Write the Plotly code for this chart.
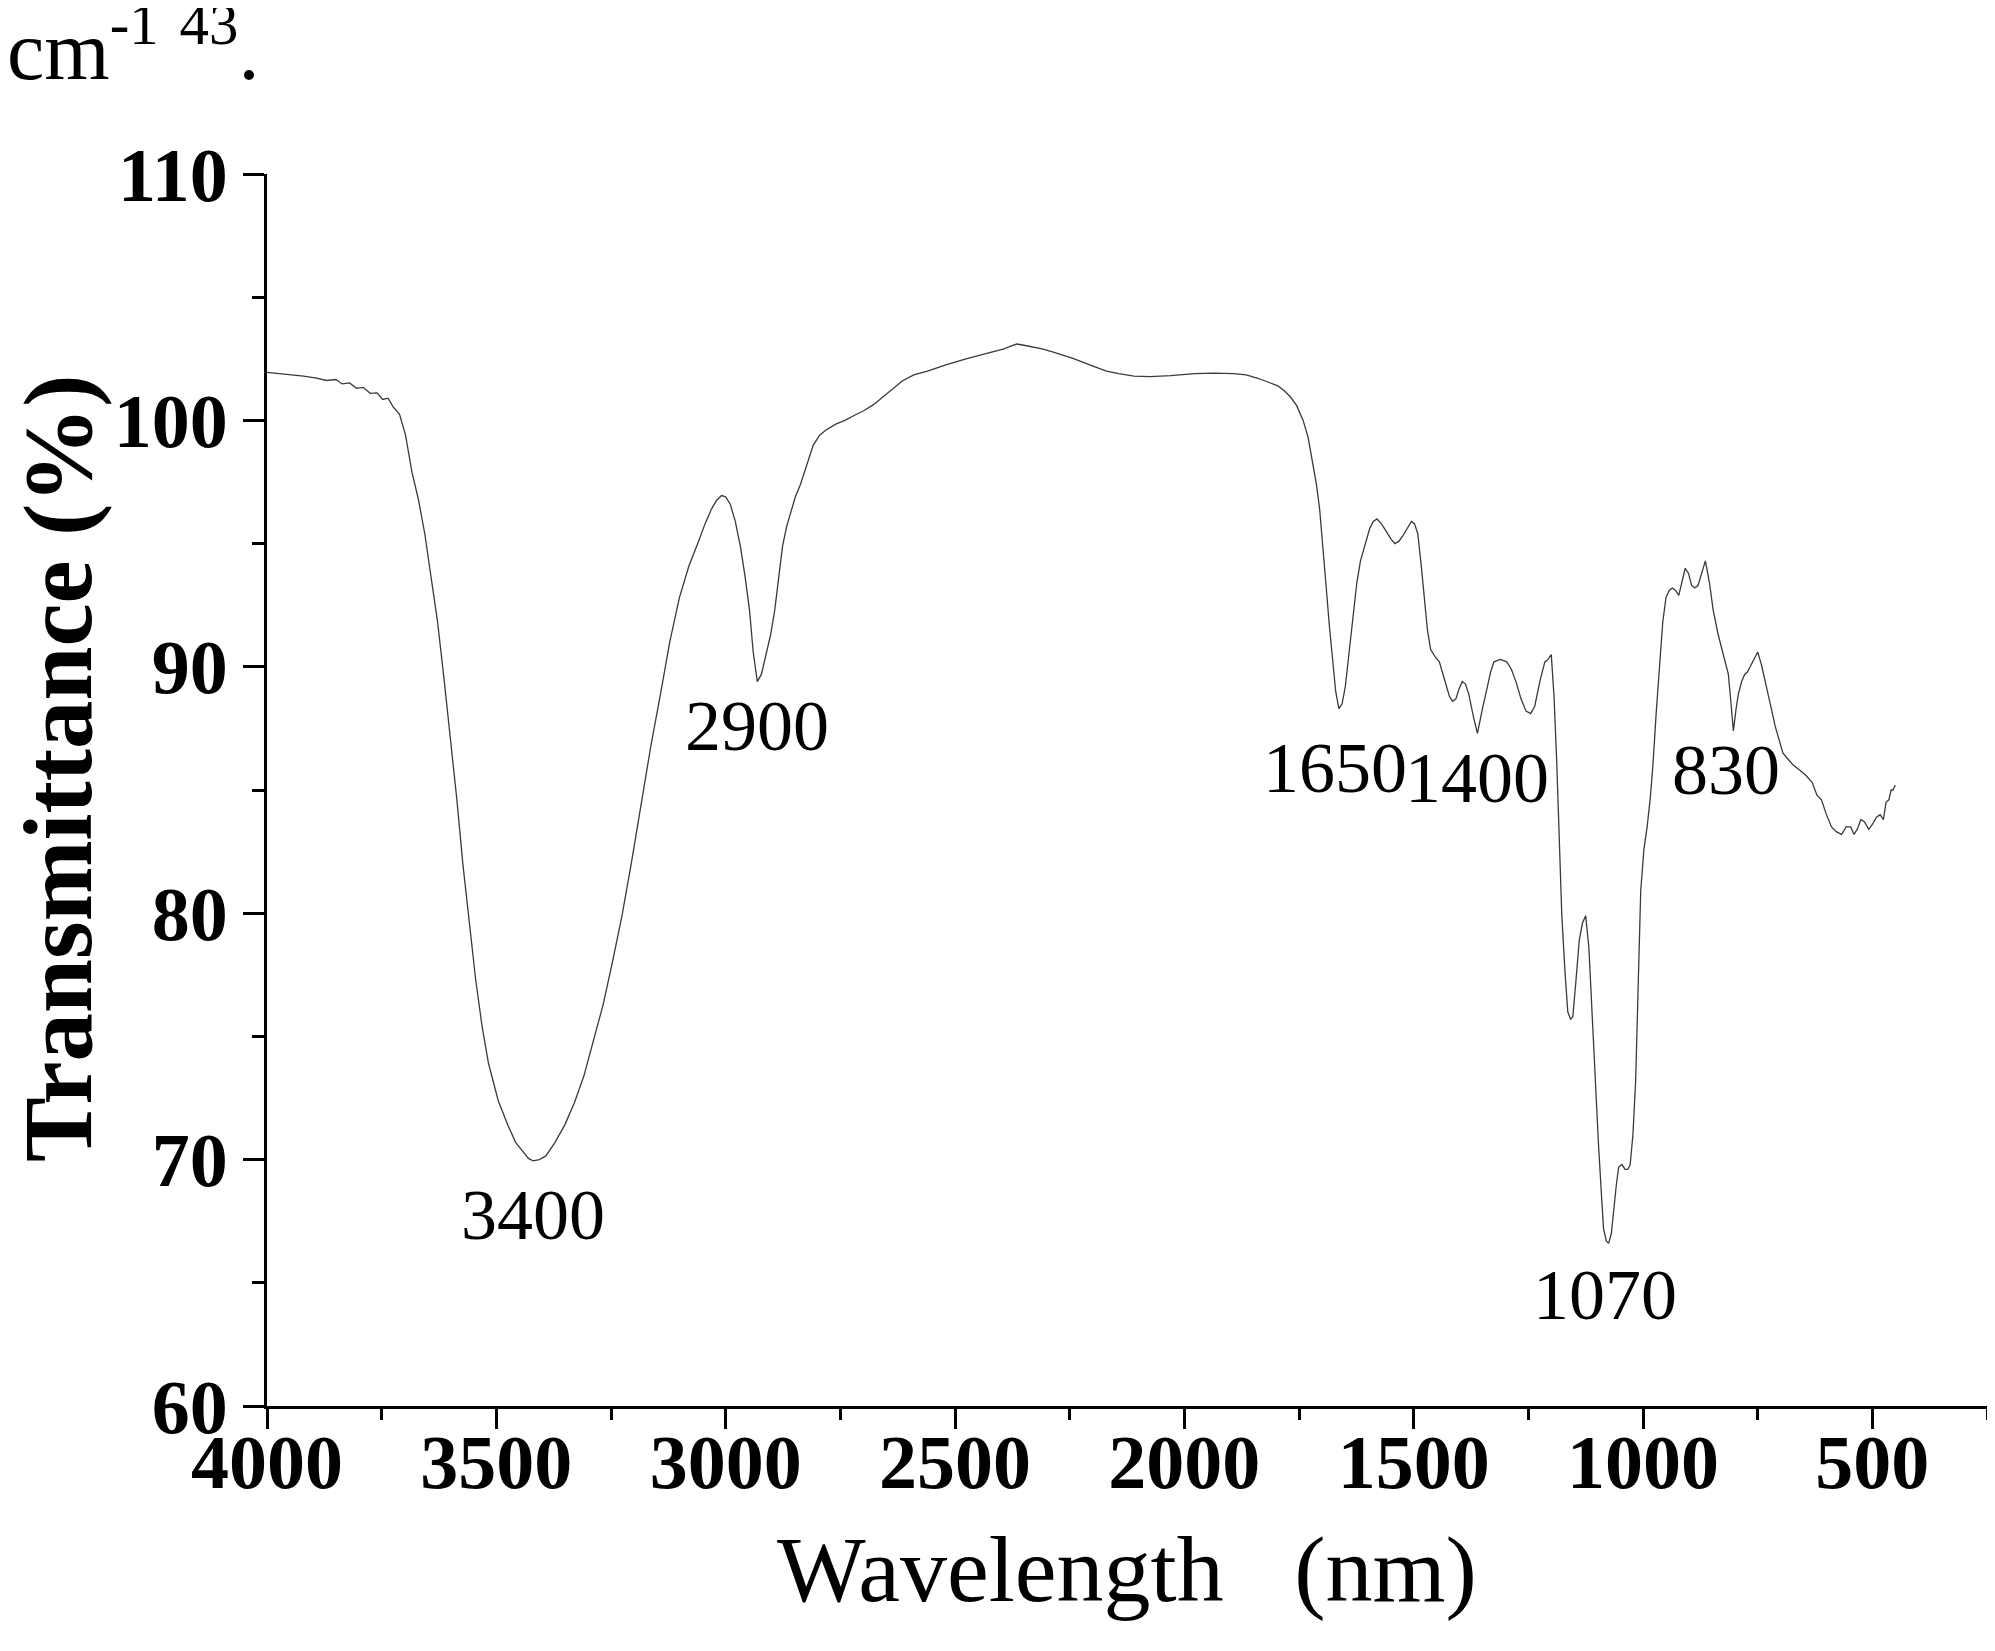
import plotly.graph_objects as go

# FTIR-like spectrum
wavenumber = [4000, 3960, 3920, 3892, 3870, 3850, 3836, 3820, 3805, 3790, 3775, 3760, 3748, 3736, 3725, 3711, 3698,
              3684, 3670, 3656, 3642, 3628, 3614, 3600, 3586, 3573, 3559, 3545, 3531, 3517, 3496, 3475, 3458, 3442,
              3430, 3420, 3406, 3392, 3372, 3351, 3330, 3309, 3288, 3267, 3247, 3226, 3205, 3184, 3163, 3142, 3122,
              3101, 3080, 3059, 3045, 3031, 3020, 3009, 3000, 2990, 2979, 2968, 2958, 2948, 2940, 2931, 2922, 2912,
              2902, 2893, 2884, 2876, 2867, 2859, 2848, 2837, 2823, 2809, 2795, 2782, 2760, 2740, 2720, 2698, 2677,
              2657, 2636, 2615, 2590, 2560, 2520, 2476, 2435, 2393, 2380, 2365, 2350, 2337, 2310, 2282, 2240, 2199,
              2170, 2143, 2110, 2074, 2030, 1977, 1935, 1893, 1865, 1838, 1817, 1796, 1782, 1769, 1755, 1741, 1730,
              1719, 1712, 1705, 1698, 1691, 1684, 1677, 1670, 1663, 1656, 1649, 1640, 1632, 1624, 1616, 1606, 1596,
              1588, 1580, 1570, 1560, 1550, 1541, 1532, 1524, 1514, 1505, 1498, 1491, 1484, 1477, 1470, 1463, 1453,
              1444, 1433, 1422, 1415, 1408, 1401, 1394, 1387, 1380, 1370, 1361, 1350, 1339, 1332, 1325, 1311, 1297,
              1287, 1277, 1266, 1255, 1245, 1236, 1225, 1214, 1207, 1200, 1194, 1188, 1182, 1177, 1170, 1164, 1158,
              1153, 1146, 1139, 1132, 1125, 1118, 1111, 1104, 1097, 1091, 1086, 1080, 1075, 1069, 1064, 1058, 1053,
              1046, 1039, 1033, 1028, 1022, 1016, 1010, 1005, 998, 991, 984, 978, 971, 964, 957, 950, 943, 936, 929,
              922, 915, 908, 901, 894, 887, 880, 872, 864, 855, 847, 836, 825, 819, 814, 808, 803, 797, 792, 785, 778,
              772, 767, 758, 750, 742, 733, 726, 719, 712, 705, 695, 686, 672, 658, 645, 631, 621, 611, 600, 589, 578,
              567, 557, 547, 540, 533, 525, 517, 508, 500, 491, 483, 476, 470, 464, 459, 455, 450]

transmittance = [101.95, 101.88, 101.80, 101.72, 101.62, 101.66, 101.48, 101.52, 101.30, 101.34, 101.10, 101.12,
                 100.85, 100.90, 100.55, 100.25, 99.40,
                 97.9, 96.8, 95.4, 93.7, 91.8, 89.5, 87.1, 84.6, 82.0, 79.6, 77.3, 75.4, 73.9, 72.4, 71.4, 70.7, 70.3,
                 70.05, 69.95, 70.0, 70.15, 70.7, 71.4, 72.3, 73.4, 74.8, 76.3, 78.0, 79.9, 82.1, 84.5, 86.8, 88.9, 91.0,
                 92.8, 94.1, 95.1, 95.8, 96.4, 96.75, 96.95, 96.9, 96.6, 95.9, 94.9, 93.7, 92.3, 90.6, 89.4, 89.7, 90.5,
                 91.3, 92.3, 93.8, 94.9, 95.7, 96.2, 96.9, 97.4, 98.2, 99.0, 99.4, 99.6, 99.85, 100.0, 100.2, 100.4, 100.65,
                 100.96, 101.3, 101.6, 101.85, 102.0, 102.25, 102.5, 102.7, 102.9, 103.0, 103.1, 103.05, 103.0, 102.9, 102.75, 102.5, 102.2,
                 102.0, 101.9, 101.8, 101.78, 101.82, 101.9, 101.92, 101.9, 101.85, 101.7, 101.55, 101.4, 101.2, 100.96, 100.6, 100.0, 99.3,
                 98.2, 97.4, 96.4, 95.0, 93.3, 91.7, 90.2, 89.0, 88.3, 88.5, 89.2, 90.7, 92.3, 93.4, 94.3, 95.0, 95.6,
                 95.9, 96.0, 95.8, 95.5, 95.2, 95.0, 95.1, 95.3, 95.6, 95.9, 95.8, 95.4, 94.2, 92.8, 91.5, 90.7, 90.4,
                 90.2, 89.5, 88.8, 88.6, 88.7, 89.1, 89.4, 89.3, 88.9, 88.0, 87.3, 88.3, 89.2, 89.8, 90.2, 90.3, 90.2,
                 89.9, 89.4, 88.7, 88.2, 88.1, 88.4, 89.4, 90.2, 90.3, 90.5, 88.8, 86.1, 82.8, 79.9, 77.6, 76.0, 75.7,
                 75.8, 77.3, 78.9, 79.6, 79.9, 78.6, 75.8, 73.0, 70.6, 68.7, 67.2, 66.7, 66.6, 67.0, 68.0, 69.0, 69.7,
                 69.8, 69.6, 69.6, 69.8, 71.0, 73.2, 77.0, 80.9, 82.6, 83.5, 84.7, 86.1, 88.2, 90.2, 91.8, 92.8, 93.1, 93.2, 93.1,
                 92.9, 93.5, 94.0, 93.8, 93.3, 93.2, 93.3, 93.8, 94.3, 93.4, 92.3, 91.3, 90.5, 90.0, 89.7, 88.5, 87.4, 88.3, 88.9, 89.4, 89.7,
                 89.8, 89.98, 90.3, 90.6, 90.1, 89.4, 88.8, 88.2, 87.6, 87.1, 86.5, 86.3, 86.0, 85.8, 85.6, 85.3, 84.8, 84.6, 84.0, 83.5, 83.3,
                 83.2, 83.5, 83.5, 83.2, 83.4, 83.8, 83.7, 83.4, 83.6, 83.9, 84.0, 83.8, 84.5, 84.6, 85.0, 85.0, 85.2]

# peak annotations: label text and position (data coords)
peak_labels = ["3400", "2900", "1650", "1400", "1070", "830"]
peak_label_x = [3420, 2931, 1671, 1361, 1083, 819]
peak_label_y = [67.75, 87.6, 85.9, 85.5, 64.5, 85.8]

x_tick_vals = [4000, 3500, 3000, 2500, 2000, 1500, 1000, 500]
y_tick_vals = [60, 70, 80, 90, 100, 110]

x_title = "Wavelength\u00a0\u00a0\u00a0(nm)"
y_title = "Transmittance (%)"

SERIF = "Liberation Serif, Times New Roman, serif"

fig = go.Figure()
fig.add_trace(go.Scatter(x=wavenumber, y=transmittance, mode="lines",
                         line=dict(color="#3a3a3a", width=1.3), showlegend=False))

for t, px, py in zip(peak_labels, peak_label_x, peak_label_y):
    fig.add_annotation(x=px, y=py, xref="x", yref="y", text=t, showarrow=False,
                       font=dict(family=SERIF, size=72, color="black"),
                       xanchor="center", yanchor="middle")

# y-axis title, placed as a rotated annotation to sit where the reference puts it
fig.add_annotation(xref="paper", yref="paper", x=-0.1209, y=0.5179, xanchor="center", yanchor="middle",
                   text=y_title, textangle=-90, showarrow=False,
                   font=dict(family=SERIF, size=97, color="black", weight="bold"))

# fragment of caption text at top-left
fig.add_annotation(xref="paper", yref="paper", x=-0.1524, y=1.1493, xanchor="left", yanchor="top",
                   text="cm<sup>-1</sup> <sup>43</sup>.", showarrow=False,
                   font=dict(family=SERIF, size=84, color="black"))

axis_common = dict(showline=True, linecolor="black", linewidth=3, ticks="outside", tickwidth=3,
                   tickcolor="black", showgrid=False, zeroline=False, mirror=False, automargin=False,
                   tickfont=dict(family=SERIF, size=76, color="black", weight="bold"))

fig.update_layout(
    width=1987, height=1643,
    margin=dict(l=259, r=8, t=166, b=245),
    paper_bgcolor="white", plot_bgcolor="white",
    xaxis=dict(range=[4000, 250], tickmode="array", tickvals=x_tick_vals, ticklen=20,
               ticklabelstandoff=-32,
               minor=dict(tickmode="linear", tick0=0, dtick=250, ticklen=11, tickwidth=3,
                          tickcolor="black", ticks="outside", showgrid=False),
               title=dict(text=x_title,
                          font=dict(family=SERIF, size=94, color="black"), standoff=32),
               **axis_common),
    yaxis=dict(range=[60, 110], tickmode="array", tickvals=y_tick_vals, ticklen=21,
               minor=dict(tickmode="linear", tick0=0, dtick=5, ticklen=12, tickwidth=3,
                          tickcolor="black", ticks="outside", showgrid=False),
               **axis_common),
)

fig.write_html("out.html")
